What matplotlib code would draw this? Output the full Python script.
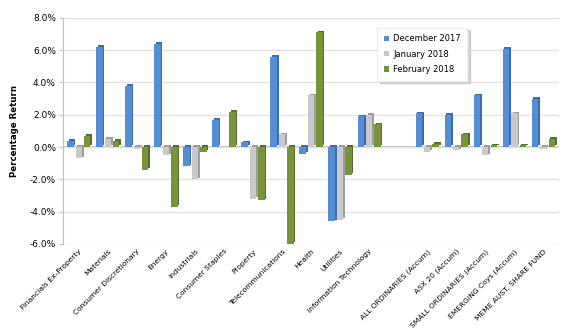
import numpy as np
import matplotlib.pyplot as plt
from matplotlib.ticker import FuncFormatter

categories = ["Financials Ex-Property", "Materials", "Consumer Discretionary", "Energy",
              "Industrials", "Consumer Staples", "Property", "Telecommunications",
              "Health", "Utilities", "Information Technology", "",
              "ALL ORDINARIES (Accum)", "ASX 20 (Accum)", "SMALL ORDINARIES (Accum)",
              "EMERGING Coys (Accum)", "MEME AUST. SHARE FUND"]
dec_2017 = [0.4, 6.2, 3.8, 6.4, -1.2, 1.7, 0.3, 5.6, -0.4, -4.6, 1.9, np.nan,
            2.1, 2.0, 3.2, 6.1, 3.0]
jan_2018 = [-0.7, 0.5, -0.1, -0.5, -2.0, 0.05, -3.2, 0.8, 3.2, -4.5, 2.0, np.nan,
            -0.3, -0.2, -0.5, 2.1, -0.1]
feb_2018 = [0.7, 0.4, -1.4, -3.7, -0.3, 2.2, -3.3, -6.0, 7.1, -1.7, 1.4, np.nan,
            0.2, 0.8, 0.1, 0.1, 0.5]

series = [("December 2017", dec_2017, "#558ED5", "#3A6CB0"),
          ("January 2018", jan_2018, "#C9C9C9", "#9E9E9E"),
          ("February 2018", feb_2018, "#77933C", "#55702A")]

plt.rcParams['font.family'] = ['DejaVu Sans']
fig = plt.figure(figsize=(5.61, 3.31), dpi=100)
ax = fig.add_axes([0.112, 0.263, 0.885, 0.683])

x = np.arange(len(categories))
width = 0.22
offsets = [-0.29, 0.0, 0.29]
dx, dy = 0.06, 0.1

for (name, vals, col, dark), off in zip(series, offsets):
    v = np.array(vals, dtype=float)
    # side/top face for a pseudo-3D look
    ax.bar(x + off + dx, v, width, bottom=dy, color=dark, zorder=2, linewidth=0)
    ax.bar(x + off, v, width, color=col, zorder=3, linewidth=0, label=name)

ax.set_xlim(-0.55, len(categories) - 0.45)
ax.set_ylim(-6, 8)
ax.set_yticks(np.arange(-6, 8.1, 2))
ax.yaxis.set_major_formatter(FuncFormatter(lambda v, p: f"{v:.1f}%"))
ax.grid(axis='y', color='#E2E2E2', lw=1.0, zorder=0)
ax.axhline(0, color='#BFBFBF', lw=1.2, zorder=1)
for s in ['top', 'right', 'bottom']:
    ax.spines[s].set_visible(False)
ax.spines['left'].set_color('#BFBFBF')
ax.tick_params(axis='y', labelsize=6.5, length=3, color='#BFBFBF', pad=2)
ax.tick_params(axis='x', length=0, pad=3)
ax.set_xticks(x)
ax.set_xticklabels(categories, rotation=45, ha='right', rotation_mode='anchor', fontsize=5.4)
ax.set_ylabel("Percentage Return", fontsize=6.2, fontweight='bold', labelpad=8)

leg = ax.legend(loc='upper left', bbox_to_anchor=(0.625, 0.975), fontsize=6,
                frameon=True, fancybox=False, shadow={'color': '#C8C8C8', 'alpha': 0.8},
                handlelength=0.6, handleheight=0.6, borderpad=0.8, labelspacing=0.75,
                handletextpad=0.5)
leg.get_frame().set_edgecolor('#EEEEEE')

fig.savefig("out.png", dpi=100)
